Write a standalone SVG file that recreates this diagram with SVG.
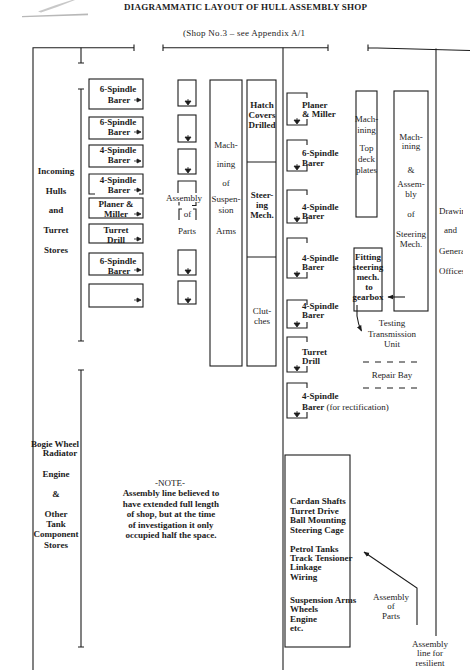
<svg xmlns="http://www.w3.org/2000/svg" width="472" height="670" viewBox="0 0 472 670">
<style>
text{font-family:"Liberation Serif","Times New Roman",serif;fill:#1c1c1c;font-size:9px}
.b{font-weight:bold}
.c{text-anchor:middle}
.ln{fill:none;stroke:#1c1c1c;stroke-width:1.1}
.bx{fill:none;stroke:#1c1c1c;stroke-width:1.1}
.mk{fill:#1c1c1c;stroke:#1c1c1c;stroke-width:0.8}
.ds{fill:none;stroke:#1c1c1c;stroke-width:1.2;stroke-dasharray:6 6}
</style>
<defs>
<marker id="ah" viewBox="0 0 10 10" refX="9" refY="5" markerWidth="6" markerHeight="6" orient="auto" markerUnits="userSpaceOnUse"><path d="M0,1 L10,5 L0,9 Z" fill="#1c1c1c"/></marker>
<path id="mr" d="M-6,0 H-3 M-3,-2 L1,0 L-3,2 Z"/>
<path id="md" d="M0,-6 V-3 M-3,-4 H3 L0,0 Z"/>
<clipPath id="cr"><rect x="0" y="0" width="463" height="670"/></clipPath>
</defs>
<rect width="472" height="670" fill="#fff"/>
<path d="M22,16 L88,13.6 L88,15.2 L22,17.2 Z" fill="#9a9a9a" opacity="0.7"/>
<path d="M38,11.5 Q55,5 72,0 L75,0 Q58,7 41,12.5 Z" fill="#b0b0b0" opacity="0.7"/>

<g id="title">
<text class="b c" x="245.5" y="10" font-size="9.2" textLength="243">DIAGRAMMATIC LAYOUT OF HULL ASSEMBLY SHOP</text>
<text class="c" x="244" y="35.5" font-size="9.5" textLength="122">(Shop No.3 – see Appendix A/1</text>
</g>

<g id="walls">
<path class="ln" d="M33,670 V47.7 H134 M134,44.5 V51"/>
<path class="ln" d="M81,47.7 V63 M78,63 H84"/>
<path class="ln" d="M81,89 V341 M78,89 H84 M78,341 H84"/>
<path class="ln" d="M81,370 V647 M78,370 H84 M78,647 H84"/>
<path class="ln" d="M163,47.7 H328 M163,44.5 V51 M328,44.5 V51"/>
<path class="ln" d="M283,47.7 V670"/>
<path class="ln" d="M368,47.7 L470,50.5 M368,44.5 V51"/>
<path class="ln" d="M436,48.5 V636"/>
</g>

<g id="labels-left">
<text class="b c" x="56" y="174">Incoming</text>
<text class="b c" x="56" y="194">Hulls</text>
<text class="b c" x="56" y="213">and</text>
<text class="b c" x="56" y="233">Turret</text>
<text class="b c" x="56" y="253">Stores</text>
<text class="b c" x="55" y="447">Bogie Wheel</text>
<text class="b c" x="60" y="456">Radiator</text>
<text class="b c" x="56" y="477">Engine</text>
<text class="b c" x="56" y="497">&amp;</text>
<text class="b c" x="56" y="517">Other</text>
<text class="b c" x="56" y="527">Tank</text>
<text class="b c" x="56" y="537">Component</text>
<text class="b c" x="56" y="548">Stores</text>
</g>

<g id="m-l1"><rect class="bx" x="89" y="79" width="54" height="30"/><text class="b c" x="118" y="91.5">6-Spindle</text><text class="b c" x="119" y="102.5">Barer</text><use href="#mr" class="mk" x="140" y="100"/></g>
<g id="m-l2"><rect class="bx" x="89" y="117" width="54" height="22"/><text class="b c" x="118" y="125">6-Spindle</text><text class="b c" x="119" y="135">Barer</text><use href="#mr" class="mk" x="140" y="132"/></g>
<g id="m-l3"><rect class="bx" x="89" y="145" width="54" height="22"/><text class="b c" x="118" y="153">4-Spindle</text><text class="b c" x="119" y="163">Barer</text><use href="#mr" class="mk" x="140" y="161"/></g>
<g id="m-l4"><path class="bx" d="M95,194 H89 V174 H143 V194 H139"/><text class="b c" x="118" y="183">4-Spindle</text><text class="b c" x="119" y="192.5">Barer</text><use href="#mr" class="mk" x="140" y="190"/></g>
<g id="m-l5"><rect class="bx" x="89" y="198" width="54" height="20"/><text class="b c" x="116" y="207">Planer &amp;</text><text class="b c" x="116" y="217">Miller</text><use href="#mr" class="mk" x="140" y="214"/></g>
<g id="m-l6"><rect class="bx" x="89" y="224" width="54" height="19"/><text class="b c" x="116" y="233">Turret</text><text class="b c" x="116" y="242.5">Drill</text><use href="#mr" class="mk" x="140" y="239"/></g>
<g id="m-l7"><rect class="bx" x="89" y="253" width="54" height="22"/><text class="b c" x="118" y="264">6-Spindle</text><text class="b c" x="119" y="274">Barer</text><use href="#mr" class="mk" x="140" y="270"/></g>
<g id="m-l8"><rect class="bx" x="89" y="284" width="54" height="23"/><use href="#mr" class="mk" x="140" y="300"/></g>

<g id="assembly-parts">
<rect class="bx" x="178" y="80" width="18" height="26"/><use href="#md" class="mk" x="188" y="105"/>
<rect class="bx" x="178" y="115" width="18" height="27"/><use href="#md" class="mk" x="188" y="141"/>
<rect class="bx" x="178" y="149" width="18" height="25"/><use href="#md" class="mk" x="188" y="173"/>
<path class="bx" d="M178,193 V181 H196 V193"/>
<path class="bx" d="M179,202 V205.5 M196,202 V205.5 H192"/>
<path class="bx" d="M182,209 H179 V220 M193,209 H196 V220"/>
<text class="c" x="184" y="201" font-size="8.5">Assembly</text>
<text class="c" x="187.5" y="217" font-size="8.5">of</text>
<text class="c" x="187" y="234" font-size="8.5">Parts</text>
<rect class="bx" x="178" y="250" width="18" height="25"/><use href="#md" class="mk" x="188" y="274"/>
<rect class="bx" x="178" y="281" width="18" height="23"/><use href="#md" class="mk" x="188" y="303"/>
</g>

<g id="suspension-arms">
<rect class="bx" x="210" y="80" width="32" height="286"/>
<text class="c" x="226" y="148">Mach-</text>
<text class="c" x="226" y="167">ining</text>
<text class="c" x="226" y="186">of</text>
<text class="c" x="226" y="202">Suspen-</text>
<text class="c" x="226" y="213">sion</text>
<text class="c" x="226" y="234">Arms</text>
</g>

<g id="hatch-steering-clutches">
<rect class="bx" x="247" y="80" width="29" height="286"/>
<path class="ln" d="M247,162 H276 M247,257 H276"/>
<text class="b c" x="262" y="108">Hatch</text>
<text class="b c" x="262" y="118">Covers</text>
<text class="b c" x="262" y="128">Drilled</text>
<text class="b c" x="262" y="198">Steer-</text>
<text class="b c" x="262" y="208">ing</text>
<text class="b c" x="262" y="218">Mech.</text>
<text class="c" x="262" y="314">Clut-</text>
<text class="c" x="262" y="324">ches</text>
</g>

<g id="m-r1"><path class="bx" d="M307,98 V93 H287 V125 H307 V119"/><use href="#md" class="mk" x="297" y="124"/><text class="b" x="302" y="108">Planer</text><text class="b" x="302" y="117">&amp; Miller</text></g>
<g id="m-r2"><path class="bx" d="M307,145 V140 H287 V171 H307 V165"/><use href="#md" class="mk" x="297" y="170"/><text class="b" x="302" y="156">6-Spindle</text><text class="b" x="302" y="166">Barer</text></g>
<g id="m-r3"><path class="bx" d="M307,195 V190 H287 V223 H307 V217"/><use href="#md" class="mk" x="297" y="222"/><text class="b" x="302" y="210">4-Spindle</text><text class="b" x="302" y="219">Barer</text></g>
<g id="m-r4"><path class="bx" d="M307,243 V238 H287 V278 H307 V272"/><use href="#md" class="mk" x="297" y="277"/><text class="b" x="302" y="261">4-Spindle</text><text class="b" x="302" y="270">Barer</text></g>
<g id="m-r5"><path class="bx" d="M307,305 V300 H287 V328 H307 V322"/><use href="#md" class="mk" x="297" y="327"/><text class="b" x="302" y="309">4-Spindle</text><text class="b" x="302" y="318">Barer</text></g>
<g id="m-r6"><path class="bx" d="M307,342 V337 H287 V372 H307 V366"/><use href="#md" class="mk" x="297" y="371"/><text class="b" x="302" y="355">Turret</text><text class="b" x="302" y="364">Drill</text></g>
<g id="m-r7"><path class="bx" d="M307,388 V383 H287 V418 H307 V412"/><use href="#md" class="mk" x="297" y="417"/><text class="b" x="302" y="399">4-Spindle</text><text x="302" y="410"><tspan class="b">Barer</tspan> (for rectification)</text></g>

<g id="top-deck">
<rect class="bx" x="356" y="91" width="21" height="126"/>
<text class="c" x="366.5" y="122" font-size="8">Mach-</text>
<text class="c" x="366.5" y="133" font-size="8">ining</text>
<text class="c" x="366.5" y="151" font-size="8">Top</text>
<text class="c" x="366.5" y="162" font-size="8">deck</text>
<text class="c" x="366.5" y="173" font-size="8">plates</text>
</g>

<g id="steering-assembly">
<rect class="bx" x="394" y="91" width="34" height="220"/>
<text class="c" x="411" y="140">Mach-</text>
<text class="c" x="411" y="149">ining</text>
<text class="c" x="411" y="173">&amp;</text>
<text class="c" x="411" y="187">Assem-</text>
<text class="c" x="411" y="197">bly</text>
<text class="c" x="411" y="217">of</text>
<text class="c" x="411" y="237" font-size="9.5">Steering</text>
<text class="c" x="411" y="247">Mech.</text>
</g>

<g id="fitting">
<rect class="bx" x="354" y="248" width="28" height="63"/>
<text class="b c" x="368" y="260" font-size="7.5">Fitting</text>
<text class="b c" x="368" y="270" font-size="7.5">steering</text>
<text class="b c" x="368" y="280" font-size="7.5">mech.</text>
<text class="b c" x="369" y="290" font-size="7.5">to</text>
<text class="b c" x="368" y="300" font-size="7.5">gearbox</text>
</g>

<g id="testing">
<text class="c" x="392" y="326" font-size="8.5">Testing</text>
<text class="c" x="392" y="337" font-size="8.5">Transmission</text>
<text class="c" x="392" y="346.5" font-size="8.5">Unit</text>
</g>

<g id="repair-bay">
<path class="ds" d="M363,362 H417 M363,388 H417"/>
<text class="c" x="392" y="378" font-size="8.5">Repair Bay</text>
</g>

<g id="offices" clip-path="url(#cr)">
<text x="439" y="214" font-size="8.5">Drawing</text>
<text x="444" y="233" font-size="8.5">and</text>
<text x="439" y="254" font-size="8.5">General</text>
<text x="439" y="274" font-size="8.5">Offices</text>
</g>

<g id="note">
<text class="c" x="170" y="486">-NOTE-</text>
<text class="b c" x="171" y="496">Assembly line believed to</text>
<text class="b c" x="171" y="506.5">have extended full length</text>
<text class="b c" x="171" y="517">of shop, but at the time</text>
<text class="b c" x="171" y="527.5">of investigation it only</text>
<text class="b c" x="171" y="538">occupied half the space.</text>
</g>

<g id="component-assembly">
<rect class="bx" x="285" y="455" width="65" height="192"/>
<text class="b" x="290" y="504">Cardan Shafts</text>
<text class="b" x="290" y="513.5">Turret Drive</text>
<text class="b" x="290" y="523">Ball Mounting</text>
<text class="b" x="290" y="533">Steering Cage</text>
<text class="b" x="290" y="551.5">Petrol Tanks</text>
<text class="b" x="290" y="561">Track Tensioner</text>
<text class="b" x="290" y="570">Linkage</text>
<text class="b" x="290" y="579.5">Wiring</text>
<text class="b" x="290" y="603">Suspension Arms</text>
<text class="b" x="290" y="612">Wheels</text>
<text class="b" x="290" y="621.5">Engine</text>
<text class="b" x="290" y="630.5">etc.</text>
</g>

<g id="assembly-of-parts-label">
<text class="c" x="391" y="599.5" font-size="8.5">Assembly</text>
<text class="c" x="391" y="609" font-size="8.5">of</text>
<text class="c" x="391" y="618.5" font-size="8.5">Parts</text>
</g>
<g id="resilient-line-label">
<text class="c" x="430" y="646.5" font-size="8.5">Assembly</text>
<text class="c" x="430" y="656" font-size="8.5">line for</text>
<text class="c" x="430" y="665.5" font-size="8.5">resilient</text>
</g>

<g id="connectors">
<path class="ln" d="M405,297 H388" marker-end="url(#ah)"/>
<path class="ln" d="M357,305 V316 Q358,324 361.5,331" marker-end="url(#ah)"/>
<path class="ln" d="M417,625 V588 L364,552" marker-end="url(#ah)"/>
</g>
</svg>
